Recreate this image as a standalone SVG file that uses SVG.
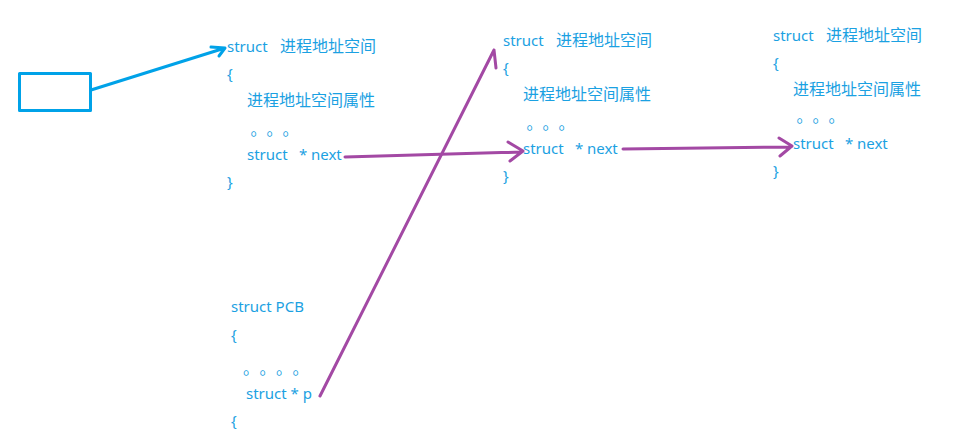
<svg xmlns="http://www.w3.org/2000/svg" width="970" height="446" viewBox="0 0 970 446">
<style>
text{font-family:"Noto Sans","Noto Sans CJK SC",sans-serif;font-size:15px;fill:#1ba1e2;}
.cjk{font-family:"Noto Sans CJK SC",sans-serif;font-size:16px;}
.blue{stroke:#00a2e8;fill:none;stroke-width:3;stroke-linecap:round;stroke-linejoin:round;}
.purple{stroke:#a349a4;fill:none;stroke-width:3;stroke-linecap:round;stroke-linejoin:round;}
</style>
<rect width="970" height="446" fill="#ffffff"/>
<g id="box"><rect class="blue" x="19.5" y="73.5" width="71" height="37"/></g>
<g id="struct1">
<text x="227" y="52">struct<tspan class="cjk" x="280">进程地址空间</tspan></text>
<text x="227" y="79">{</text>
<text class="cjk" x="247" y="106">进程地址空间属性</text>
<text class="cjk" x="250.5 266.5 282.5" y="135">。。。</text>
<text x="247" y="160">struct<tspan x="299">*</tspan><tspan x="311">next</tspan></text>
<text x="227" y="187">}</text>
</g>
<g id="struct2">
<text x="503" y="46">struct<tspan class="cjk" x="556">进程地址空间</tspan></text>
<text x="503" y="73">{</text>
<text class="cjk" x="523" y="100">进程地址空间属性</text>
<text class="cjk" x="526.5 542.5 558.5" y="129">。。。</text>
<text x="523" y="154">struct<tspan x="575">*</tspan><tspan x="587">next</tspan></text>
<text x="503" y="181">}</text>
</g>
<g id="struct3">
<text x="773" y="41">struct<tspan class="cjk" x="826">进程地址空间</tspan></text>
<text x="773" y="68">{</text>
<text class="cjk" x="793" y="95">进程地址空间属性</text>
<text class="cjk" x="796.5 812.5 828.5" y="122">。。。</text>
<text x="793" y="149">struct<tspan x="845">*</tspan><tspan x="857">next</tspan></text>
<text x="773" y="176">}</text>
</g>
<g id="pcb">
<text x="231" y="312">struct PCB</text>
<text x="231" y="340">{</text>
<text class="cjk" x="243 259.5 276 292.5" y="374">。。。。</text>
<text x="246" y="399">struct * p</text>
<text x="231" y="426">{</text>
</g>
<g id="connectors">
<path class="blue" d="M91 90 L225 48 M211 47 L225 48 L219 56"/>
<path class="purple" d="M345 157 L522 152 M508 142 L523 151 L510 161"/>
<path class="purple" d="M320 396 L494 50 M487 64 L494 50 L496 68"/>
<path class="purple" d="M623 149 L791 147 M779 138 L792 146 L780 156"/>
</g>
</svg>
